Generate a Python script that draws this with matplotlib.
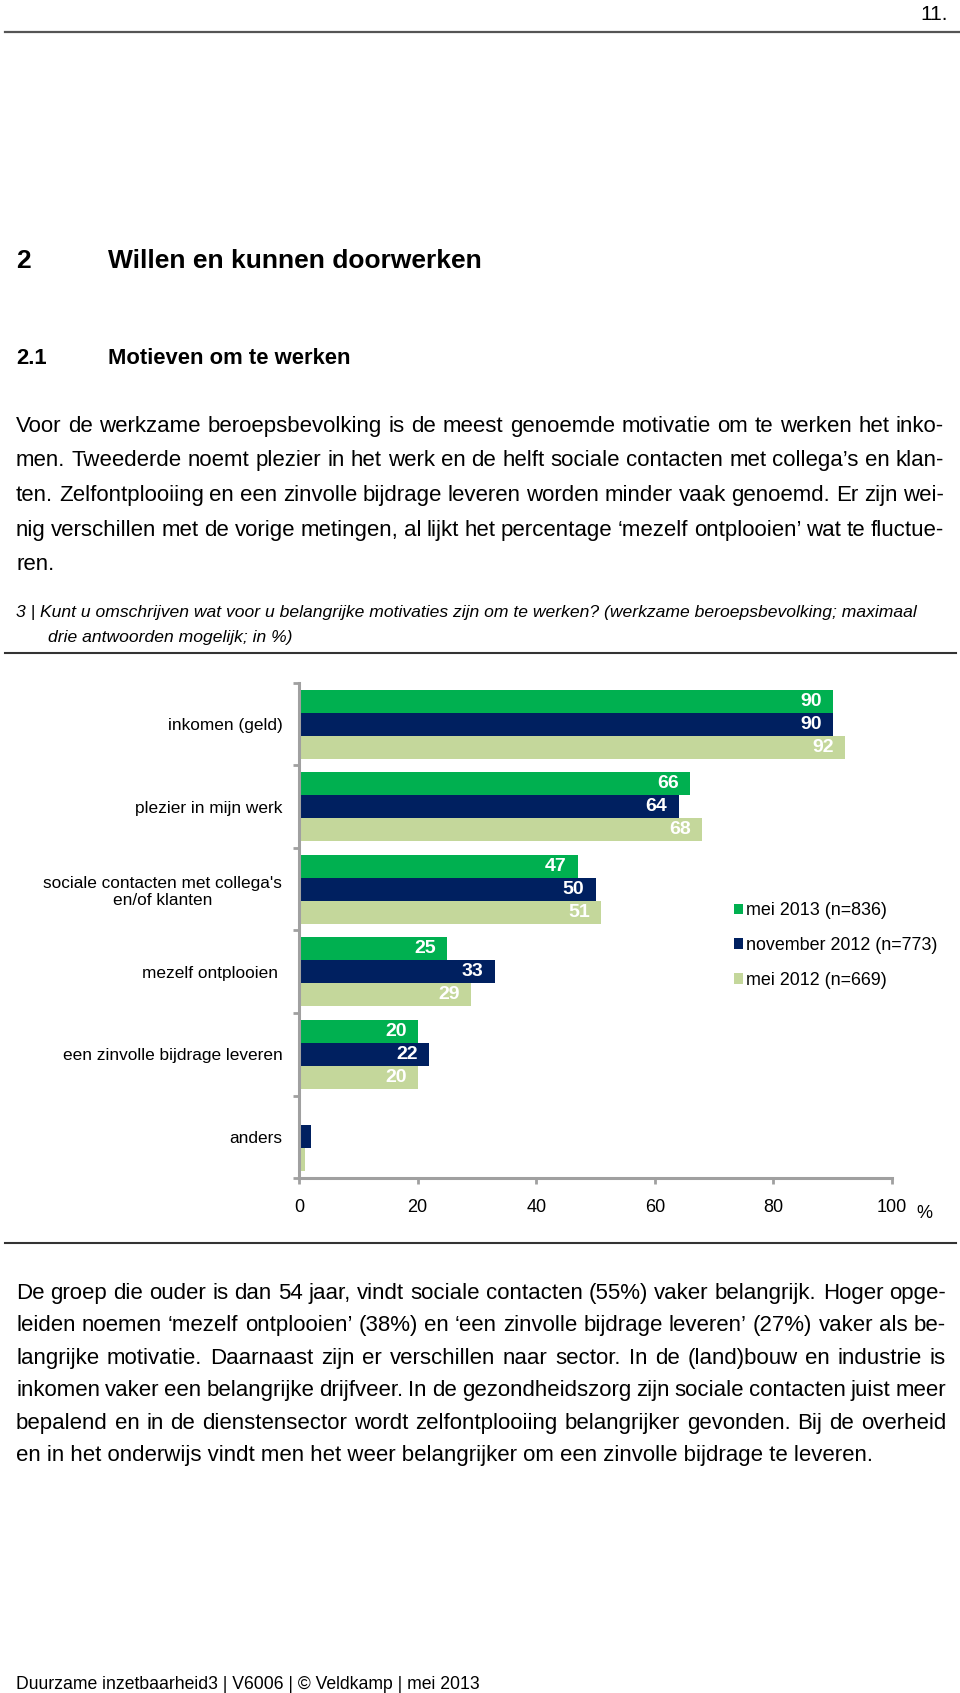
import numpy as np
import matplotlib
matplotlib.use("Agg")
import matplotlib.pyplot as plt
from matplotlib.ticker import FixedLocator

plt.rcParams['font.family'] = 'Liberation Sans'

# chart data
categories = ["inkomen (geld)", "plezier in mijn werk",
              "sociale contacten met collega's\nen/of klanten",
              "mezelf ontplooien ", "een zinvolle bijdrage leveren", "anders"]
series = ["mei 2013 (n=836)", "november 2012 (n=773)", "mei 2012 (n=669)"]
mei_2013 = [90, 66, 47, 25, 20, 0]
nov_2012 = [90, 64, 50, 33, 22, 2]
mei_2012 = [92, 68, 51, 29, 20, 1]
show_label = [True, True, True, True, True, False]
colors = ['#00B050', '#002060', '#C4D79B']
xticks = [0, 20, 40, 60, 80, 100]

# page texts
para_top = [
    "Voor de werkzame beroepsbevolking is de meest genoemde motivatie om te werken het inko-",
    "men. Tweederde noemt plezier in het werk en de helft sociale contacten met collega’s en klan-",
    "ten. Zelfontplooiing en een zinvolle bijdrage leveren worden minder vaak genoemd. Er zijn wei-",
    "nig verschillen met de vorige metingen, al lijkt het percentage ‘mezelf ontplooien’ wat te fluctue-",
    "ren.",
]
para_bottom = [
    "De groep die ouder is dan 54 jaar, vindt sociale contacten (55%) vaker belangrijk. Hoger opge-",
    "leiden noemen ‘mezelf ontplooien’ (38%) en ‘een zinvolle bijdrage leveren’ (27%) vaker als be-",
    "langrijke motivatie. Daarnaast zijn er verschillen naar sector. In de (land)bouw en industrie is",
    "inkomen vaker een belangrijke drijfveer. In de gezondheidszorg zijn sociale contacten juist meer",
    "bepalend en in de dienstensector wordt zelfontplooiing belangrijker gevonden. Bij de overheid",
    "en in het onderwijs vindt men het weer belangrijker om een zinvolle bijdrage te leveren.",
]

W, H = 960, 1693
fig = plt.figure(figsize=(W / 100, H / 100), dpi=100)
renderer = fig.canvas.get_renderer()


def fx(px):
    return px / W


def fy(py):
    return 1 - py / H


def hline(y, x0, x1, color='#333333', lw=1.5):
    fig.add_artist(plt.Line2D([fx(x0), fx(x1)], [fy(y), fy(y)], color=color, lw=lw))


def justified(line, x0, x1, y, **kw):
    # place words one by one so the line fills x0..x1
    words = line.split(' ')
    ts = [fig.text(0, fy(y), w, va='baseline', **kw) for w in words]
    widths = [t.get_window_extent(renderer).width for t in ts]
    gap = (x1 - x0 - sum(widths)) / max(len(words) - 1, 1)
    x = x0
    for t, w in zip(ts, widths):
        t.set_x(fx(x))
        x += w + gap


# header
fig.text(fx(948), fy(14), "11.", ha='right', va='center', fontsize=15)
hline(32, 5, 960, color='#555555', lw=1.6)

fig.text(fx(16), fy(261), "2", va='center', fontsize=19, fontweight='bold')
fig.text(fx(108), fy(261), "Willen en kunnen doorwerken", va='center', fontsize=19, fontweight='bold')
fig.text(fx(16), fy(358), "2.1", va='center', fontsize=15.8, fontweight='bold')
fig.text(fx(108), fy(358), "Motieven om te werken", va='center', fontsize=15.8, fontweight='bold')

for i, line in enumerate(para_top):
    y = round(432 + i * 34.5)
    if i < len(para_top) - 1:
        justified(line, 16, 944, y, fontsize=16)
    else:
        fig.text(fx(16), fy(y), line, va='baseline', fontsize=16)

fig.text(fx(16), fy(617), "3 |", va='baseline', fontsize=12.6, style='italic')
fig.text(fx(40), fy(617), "Kunt u omschrijven wat voor u belangrijke motivaties zijn om te werken? "
         "(werkzame beroepsbevolking; maximaal", va='baseline', fontsize=12.6, style='italic')
fig.text(fx(48), fy(642), "drie antwoorden mogelijk; in %)", va='baseline', fontsize=12.6, style='italic')
hline(653, 5, 956)

# chart
ax = fig.add_axes([fx(299), fy(1178), fx(892) - fx(299), (1178 - 683) / H])
y = np.arange(len(categories))
bh = 0.278
for k, (vals, col, name) in enumerate(zip([mei_2013, nov_2012, mei_2012], colors, series)):
    bars = ax.barh(y + (k - 1) * bh, vals, height=bh, color=col, label=name)
    for b, v, s in zip(bars, vals, show_label):
        if s:
            ax.annotate(str(v), (v, b.get_y() + b.get_height() / 2), xytext=(-8, 0),
                        textcoords='offset points', ha='right', va='center',
                        color='white', fontsize=14, fontweight='bold')

ax.set_xlim(0, 100)
ax.set_ylim(len(categories) - 0.5, -0.5)
ax.set_xticks(xticks)
ax.set_xticklabels([str(t) for t in xticks], fontsize=13)
ax.set_yticks(y)
ax.set_yticklabels(categories, fontsize=12.4)
for lab in ax.get_yticklabels():
    lab.set_multialignment('center')
ax.yaxis.set_minor_locator(FixedLocator(np.arange(-0.5, len(categories), 1.0)))
ax.tick_params(axis='y', which='major', length=0, pad=12)
ax.tick_params(axis='y', which='minor', length=4, width=2, color='#a0a0a0')
ax.tick_params(axis='x', length=4, width=2, color='#a0a0a0', pad=11)
for side in ['top', 'right']:
    ax.spines[side].set_visible(False)
for side in ['left', 'bottom']:
    ax.spines[side].set_color('#a0a0a0')
    ax.spines[side].set_linewidth(2.2)
ax.text(1.055, -0.072, "%", transform=ax.transAxes, fontsize=13, ha='center', va='center')

fig.legend(loc='upper left', bbox_to_anchor=(fx(734), fy(902)), frameon=False,
           fontsize=12.9, handlelength=0.5, handleheight=0.5, handletextpad=0.15,
           labelspacing=1.0, borderpad=0, borderaxespad=0)

hline(1243, 5, 956)

for i, line in enumerate(para_bottom):
    y = round(1299 + i * 32.4)
    if i < len(para_bottom) - 1:
        justified(line, 16, 946, y, fontsize=16)
    else:
        fig.text(fx(16), fy(y), line, va='baseline', fontsize=16)

fig.text(fx(16), fy(1689), "Duurzame inzetbaarheid3 | V6006 | © Veldkamp | mei 2013",
         va='baseline', fontsize=12.7)

fig.savefig("out.png", dpi=100)
